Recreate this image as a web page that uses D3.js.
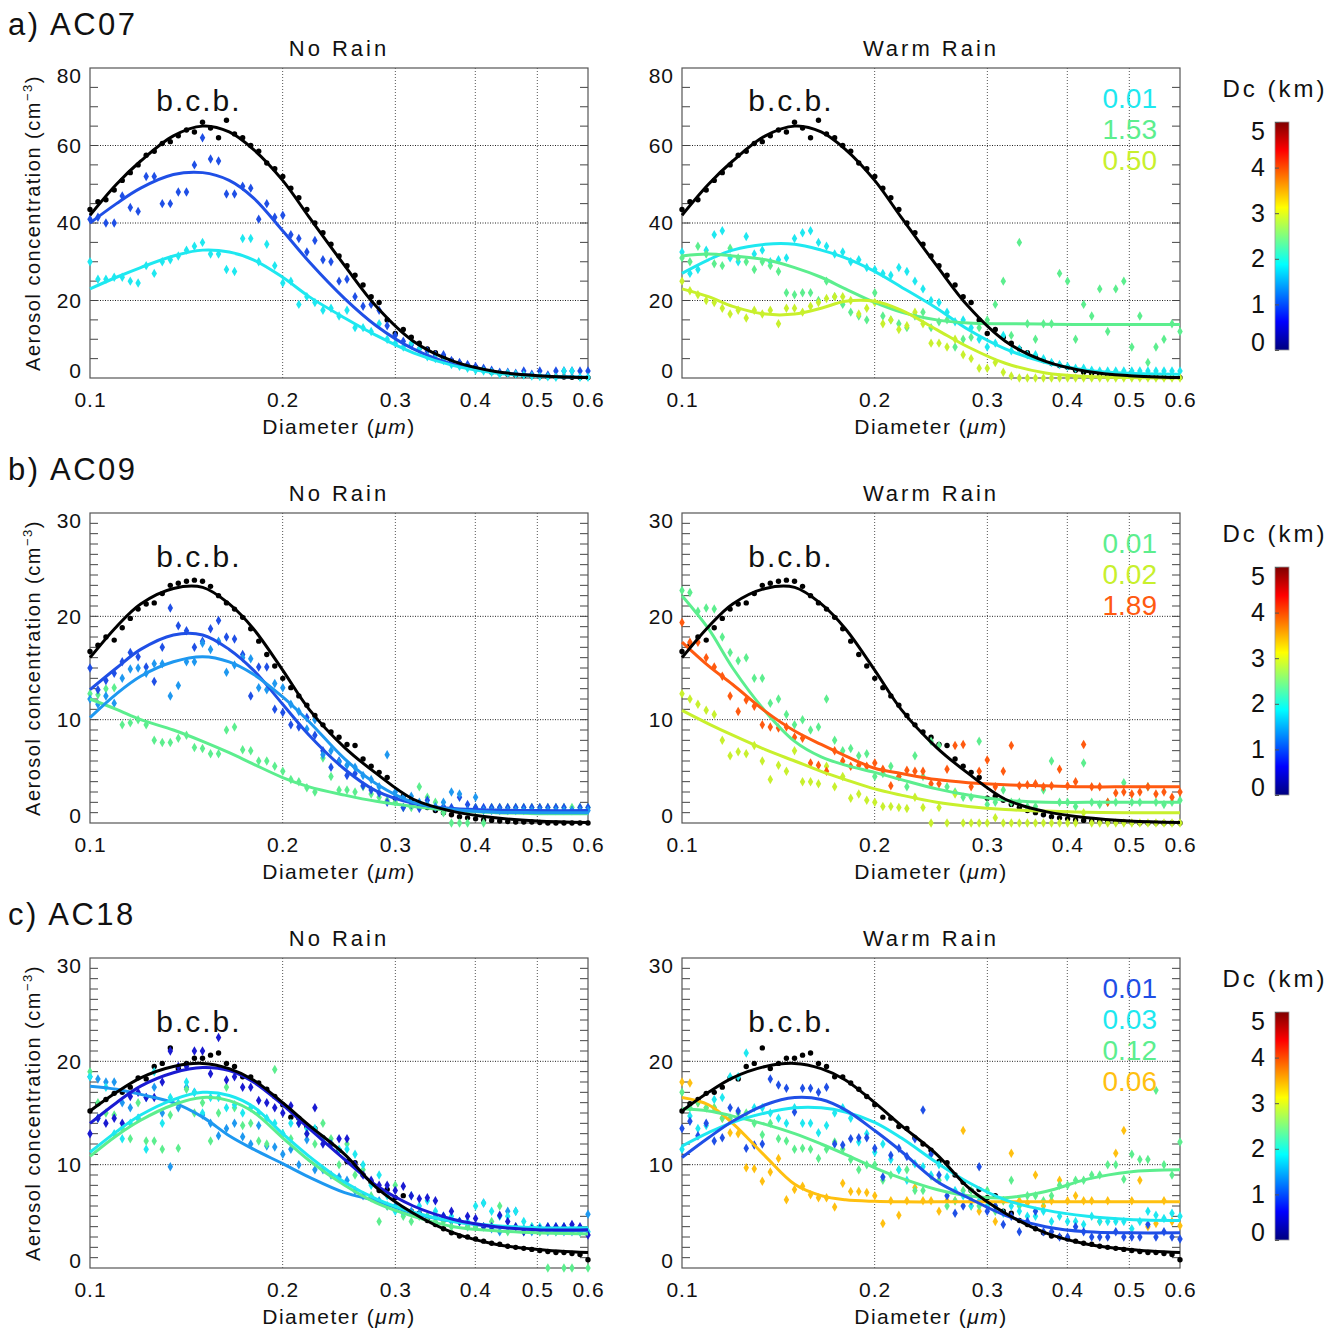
<!DOCTYPE html>
<html>
<head>
<meta charset="utf-8">
<script src="https://cdn.jsdelivr.net/npm/d3@7"></script>
<style>
body { margin: 0; background: #fff; }
text { font-family: "Liberation Sans", Arial, sans-serif; fill: #111; }
</style>
</head>
<body>
<svg id="fig" width="1340" height="1331"></svg>
<script>
// diameter bins of the measured points (um) and of the fitted curves
var diam = [0.1000,0.1029,0.1059,0.1091,0.1123,0.1156,0.1189,0.1224,0.1260,0.1297,0.1335,0.1374,0.1415,0.1456,0.1499,0.1543,
            0.1588,0.1634,0.1682,0.1732,0.1783,0.1835,0.1889,0.1944,0.2001,0.2060,0.2120,0.2182,0.2246,0.2312,0.2380,0.2450,
            0.2521,0.2595,0.2671,0.2750,0.2830,0.2913,0.2999,0.3087,0.3177,0.3270,0.3366,0.3465,0.3567,0.3671,0.3779,0.3890,
            0.4004,0.4121,0.4242,0.4367,0.4495,0.4626,0.4762,0.4902,0.5045,0.5193,0.5346,0.5503,0.5664,0.5830,0.6000];
var fitDiam = [0.10,0.11,0.12,0.135,0.15,0.165,0.18,0.20,0.22,0.25,0.28,0.32,0.37,0.43,0.50,0.60];

var xTickVals = [0.1, 0.2, 0.3, 0.4, 0.5, 0.6];
var xGridVals = [0.2, 0.3, 0.4, 0.5];
var dcTicks = [0, 1, 2, 3, 4, 5];

// a) AC07
var ac07Bcb = [43.5,45.5,46,48.5,51,53,55,57.5,58.5,60.5,61,62.5,64,63.5,66,64.5,
               62,66.5,63,62,60,58.5,55.5,54,52,49,46.5,43.5,40,37.5,34.5,31.5,
               29,26.5,24,21,19.5,15,11.5,12.5,10.5,9,7.5,6.5,5.5,4.5,3.8,3.2,
               2.8,2,1.5,1.2,1,0.8,0.6,0.5,0.4,0.35,0.3,0.25,0.2,0.15,0.1];
var ac07BcbFit = [42,50,56,62.5,65,63.5,59,51,41.5,29,18.5,9.5,4.3,1.7,0.6,0.1];
var ac07NrBlue = [41,41.5,40,40,47,44,43,52,52,45,45,48,48,55,62,56.5,
                  56,47.5,47.5,49.5,49,41,45,41.5,42,37,36,32.5,35.5,30.5,30,25,
                  25.5,21,18.5,19,17.5,13.5,11,9.5,8.5,7.5,7,6,6,4.5,4,3.5,
                  3,2.5,2,1.5,1.5,1.2,1.8,1,1.8,0.8,1.8,1.8,1.8,1.8,1.8];
var ac07NrBlueFit = [40,45,49,52.5,53,51,46.5,38,30,20.5,13.5,7.5,3.5,1.5,0.6,0.2];
var ac07NrCyan = [30,25.5,25.5,26,26,25,24.5,29,27,30,30.5,31.5,33,34,35,32,
                  32,28,27.5,36,36,30,34.5,29,24.5,25,19,21,19.5,17.5,18,16,
                  17.5,13,13,12,14,10,9,8,9,7.5,5.5,5,4.5,3.5,3,2.5,
                  2,1.8,1.5,1,1.2,1,0.8,0.5,0.4,0.3,0.2,1.8,1.8,0.2,0.2];
var ac07NrCyanFit = [23,26,28.5,31.5,33,32.5,30.5,26,21,15.5,11,6.5,3.2,1.3,0.5,0.2];
var ac07WrCyan = [32.5,27,28,33,37,38,31,30,36.5,32,33,30,30.5,31,36,37.5,
                  38,35,34,32,32.5,30,30.5,28.5,28,27,26.5,28.5,27.5,25,23,20,
                  19.5,17,14.5,15,13,10,8,9,11,7,7.5,6,6,5,4,3.5,
                  3,2.5,2.5,2,1.8,1.8,1.8,1.8,1.8,1.8,1.8,1.8,1.8,1.8,1.8];
var ac07WrCyanFit = [27,30.5,33,34.5,34.5,33,31,27.5,23.5,18,12.5,7.5,4,2,1.2,1];
var ac07WrGreen = [31,30,34,32,29.5,29,33.5,31,30,28,30,29,27.5,22,21.5,22,
                   22,20,25,21,19,17,16,15,22,16,15,14,13,16,17,13,
                   14.5,15,8,10,10.5,13,15,19,25,11,35,14,10,14,14,27,
                   25,10,19,16,23,12,23,25,8,16,4,8,10,14,12];
var ac07WrGreenFit = [31.5,32,31.5,30.5,28.5,26,23,19.5,17,15,14.2,14,13.9,13.8,13.8,13.8];
var ac07WrYg = [25,22.5,21.5,20,19.5,18,16.5,17.5,15.5,17.5,16.5,17.5,14,18,18,17,
                18.5,19.5,20.5,21,21,20,16.5,18,19.5,14,15,12.5,13.5,17,14,9,
                9,8,10,6,5,2.5,2.5,4,1.5,0.5,0,0,0,0,0,0,
                0,0,0,0,0,0,0,0,0,0,0,0,0,0,0];
var ac07WrYgFit = [23,21,18.5,16.5,16.5,18,19.8,19.8,17.5,12.5,8,3.8,1.3,0.4,0.1,0];
var ac07Legend = ["0.01", "1.53", "0.50"];

// b) AC09
var ac09Bcb = [16.6,17.2,18,17.7,18.9,19.8,20.7,21.2,21.3,22.2,23,23.2,23.4,23.5,23.4,22.9,
               22,21.3,20.7,19.9,18.8,17.6,16.3,15.2,14,13.1,12.3,11.4,10.4,9.5,8.8,8.3,
               7.6,7.5,6.2,5.5,4.9,4.4,2.4,2.6,2.2,1.8,1.5,1.2,1,0.8,0.6,0.5,
               0.4,0.3,0.25,0.2,0.15,0.1,0.1,0.1,0.05,0,0,0,0,0,0];
var ac09BcbFit = [16,19,21.2,22.7,22.8,21.2,18.8,14.8,11,7.3,4.8,2.3,1.1,0.5,0.2,0.05];
var ac09NrBlue = [15,12.9,13.8,14.5,15.6,16.5,16.1,15.1,13.7,17,20.8,19.1,18.6,17,17.6,18.8,
                  19.6,18,17.8,16.3,12.3,15.1,15.1,11,10.7,9.5,9.3,10.2,8.5,7,5.4,6,
                  4.6,4.8,3.6,3.2,2.9,2,2.5,1.5,1.8,1.4,2.2,1.5,1.6,1.5,2.5,1.8,
                  1.5,1.5,1.5,1.5,1.5,1.5,1.5,1.5,1.5,1.5,1.5,1.5,1.2,1.5,1.5];
var ac09NrBlueFit = [12.9,15,16.8,18.2,18.2,16.8,14.8,11.5,8.5,5.2,3.1,1.9,1.4,1.25,1.2,1.2];
var ac09NrLblue = [12,11.5,12.3,11.6,14,14.9,15,14.5,15.4,15.4,12.3,13.3,15.6,15.6,17.4,16.8,
                   17.6,14.6,15.3,16,15.9,13.1,12.9,13.5,13.1,11.5,10.8,9.1,10,6.6,7,5.9,
                   5.6,5.4,4.6,4.2,3.5,6.6,3,2.5,2.6,2,1.8,1.6,2,3,2.8,1.2,
                   2.5,1.2,1.2,1.2,1.2,1.2,1.2,1.2,1.2,1.2,1.2,1.2,1.2,1.2,1.2];
var ac09NrLblueFit = [10.2,12.5,14.2,15.6,16.1,15.6,14.4,12.2,9.8,6.2,3.8,2,1.3,1.05,1,1];
var ac09NrGreen = [12.5,12.4,13,13.1,9.5,9.7,10,9.5,8,7.8,7.8,8.2,8.5,7.3,7.2,6.7,
                   6.7,9,9.3,7.1,7,6,6,5.5,5,4.2,4,3.4,3,6.3,4.5,3.2,
                   3.2,3,3.5,2.8,2.5,2.2,2,1.5,1.5,3.5,2.5,2,1,0,0,0,
                   1.5,0,1.5,1.5,1.5,1.5,1.5,1.5,1.5,1.5,1.5,1.5,1.5,1.5,1.5];
var ac09NrGreenFit = [12,11,10,9,7.9,6.8,5.7,4.4,3.5,2.7,2.1,1.6,1.2,1,0.9,0.9];
var ac09WrGreen = [22.5,22.3,20.5,20.8,20.7,18,16.5,15.7,16,14,14,11.6,12,10.5,9.5,10,
                   9,9.3,12,8,7,7.2,6.5,6.7,4.5,4.8,5.5,4.5,3.5,6.5,4.5,7.9,
                   7.5,3.5,3,2.5,2.5,7.9,1.8,2,3.2,2,2,1.6,1.6,3.2,6,2,
                   2,1.6,5.8,2,1.8,2,2,3.9,2,2,3.5,2,1.8,2,2.2];
var ac09WrGreenFit = [22,18.8,15,10.8,7.9,6.4,5.6,4.9,4.2,3.3,2.7,2.2,2,2,2,2];
var ac09WrYg = [12.5,12,11.5,10.9,10.5,8,6.5,6.9,6.7,7.5,6,4.2,5.6,5,7,4,
                4,3.8,5.5,3.5,4.5,2.4,2.8,2.2,2,1.6,1.6,1.5,1.4,2.5,1.5,0,
                1.5,0,2.8,0,0,0,0,0.5,0,0,0,0,0,0,0,0,
                0,0,1,0,0,0,0,0,0,0,0,0,0,0,0];
var ac09WrYgFit = [10.9,9.6,8.5,7.1,6,5,4.2,3.3,2.7,2,1.6,1.3,1.15,1.05,1,1];
var ac09WrOrange = [19.4,17.5,17.5,16,15.1,14.2,12.3,10.8,11.9,11.3,9.5,9.3,9.2,9.3,8.3,8.2,
                    5.8,5.6,5,7,6,5.5,5.6,5.5,5.8,5.2,3.6,4.5,5.1,5,5,3.8,
                    3.8,5.2,7.5,7.6,3.5,5,6.1,3.5,5,7.5,3.6,3.7,3.8,3.5,3.6,5.2,
                    3.6,4,7.6,3.5,3.5,2,2.9,3,2.8,3,3.5,2.8,3,2.5,3];
var ac09WrOrangeFit = [17.5,15.2,13.4,10.8,8.9,7.6,6.5,5.3,4.8,4.2,3.9,3.7,3.6,3.5,3.5,3.5];
var ac09Legend = ["0.01", "0.02", "1.89"];

// c) AC18
var ac18Bcb = [15.2,15.9,16.3,16.9,17,17.5,18.4,18.3,19.5,19.8,21.3,19.3,19.8,20.3,20.3,20.6,
               20.8,19.8,19.5,18.5,18.5,17.9,17.3,16.6,15.8,14.6,14.5,13.7,13.5,12.6,12,11.4,
               10.3,10.2,9,8.3,7.5,7.6,6.8,7,5.5,5.3,4.6,4.2,3.8,3.4,3.1,3,
               2.8,2.6,2.4,2.3,2.1,2,1.9,1.8,1.7,1.6,1.5,1.5,1.4,1.3,0.8];
var ac18BcbFit = [15.2,17,18.4,19.5,19.8,19.3,18.2,16,13.8,11,7.8,5.3,3.4,2.3,1.8,1.5];
var ac18NrDblue = [13,14.5,14,14.5,14,16.6,17,16.5,16.5,18,21,19.5,19.5,21,21,18.8,
                   22.3,18.2,18.5,17.5,17.5,16.2,16,15.5,15,15.7,14,13,15.5,12,12,12.5,
                   12.5,10,9,8.5,8,8,7.5,7.9,7,6.7,6.8,6.5,5,5.5,4.5,5,
                   4.8,4,4,5.1,4.5,4,3.5,3.8,3.8,4,4,4,4.2,4,3.2];
var ac18NrDblueFit = [14,16,17.6,18.9,19.4,19.1,18,15.8,13.5,10.5,8,6,4.7,4,3.7,3.7];
var ac18NrLblue = [18.5,18.3,18,18,16,15.5,14.5,16.5,17.5,15,9.8,15.5,17.5,17,14.8,14,
                   12.8,13.5,14,12.7,12,13.8,11.8,11.7,11,11.5,10,12.4,9.5,9.5,9,8.8,
                   8.5,7.5,7,6.8,6.5,6,6,5.3,5.5,5.3,5,5,5,4.5,4.5,4,
                   4,6.3,3.8,3.5,5.5,5.5,3.8,3.5,3.5,3.5,3.5,3.5,3.5,3.5,5.2];
var ac18NrLblueFit = [17.6,17.3,16.8,16,14.6,12.8,11.5,10.1,8.8,7.3,6.5,5.3,4.5,4,3.7,3.6];
var ac18NrCyan = [18.5,14.5,17.5,13,12.5,14,14.5,11.5,19,14,16.5,16,18,17,15,16.5,
                  16.5,15.5,15.8,15,15.5,15,14.5,14,13,14,14,13.5,13.5,12.5,12,11.5,
                  11.5,11,10,8,9,7,5.5,5.5,7,6,6.5,5.5,5,5,4.5,4.5,
                  6,6.3,5.5,5,5,5.5,4.5,4,4,4,4,4,4,3.5,3.5];
var ac18NrCyanFit = [11.2,13.2,14.8,16.3,17,16.7,15.6,13,10.8,8.3,6.7,5.4,4.5,4.1,3.9,3.9];
var ac18NrGreen = [19,16,15,14.8,13.5,12.5,16,12.3,12.3,11.5,14.8,11.6,17.3,15,16,12.3,
                   15,17.5,15.5,13.8,14,12.3,12,19.2,13,12.5,14,13,12,14,12.5,10,
                   12,9,9.5,7,4.5,6,8,5,4.5,5,5,4.5,4.5,4,4.5,4,
                   4,4,4.5,6,3.5,4,3.5,4,3.5,0,3.5,0,0,3.5,0];
var ac18NrGreenFit = [10.8,12.8,14.3,15.8,16.5,16.2,15.1,12.6,10.4,8,6.3,5,4,3.6,3.4,3.3];
var ac18WrBlue = [13.5,14.2,12.8,14,12.3,12.6,15.5,15.2,11.6,11.9,12,18.3,17.7,17.4,15.1,17.4,
                  17.4,17,17.5,12,11.9,12.5,12.6,12.6,11.6,8.8,10.9,11.6,10.8,12.5,15.3,11,
                  9,7,5.3,6,6.5,9.8,5.5,6,4.2,5,3.5,4.5,5.5,3.5,3.5,3,
                  3,4,3.5,3,3,3,3.5,3,3,3,4.2,3,3.5,3,2.8];
var ac18WrBlueFit = [10.7,12.6,14.2,15.8,16.5,16.3,15.3,13.3,11.3,8.4,6.8,5.1,4,3.5,3.4,3.4];
var ac18WrCyan = [11.5,14.7,13.5,13.8,16.3,16.5,18.5,18.5,20.8,15.5,15.5,15,14.5,14,15.5,14,
                  14,13.1,13.8,15,15.5,14.5,12.2,13,11.2,12,10.5,9.5,8.5,10.1,9.8,9,
                  10,8.8,7.5,7,6,6.5,6,6,5.3,6,5.5,5,5,5.5,4.5,5,
                  4.5,4.5,4.2,5,4.5,4.5,4.5,4.5,3.8,4.5,5.5,5.1,4.8,5.3,5];
var ac18WrCyanFit = [11.8,13.1,14.1,15,15.5,15.5,15.1,14.1,12.6,10.2,8.3,6.6,5.6,5,4.7,4.6];
var ac18WrGreen = [17,15.5,16,15.5,15.5,14.5,14.5,15,15,14,12.9,14,12.5,12.3,11.5,11.6,
                   11.5,10.6,11.5,12.2,11.5,10.5,9.5,10,10,8.5,9,9.5,9.5,7.5,7.5,8.9,
                   8.5,6,6.5,7.5,7.5,6,7.5,5.5,6.5,8.5,6,7,7,6.5,7,8,
                   8,8.5,8.5,9,9,10,10,8.6,11,10.5,10.5,17.2,10,9,12.2];
var ac18WrGreenFit = [15.4,15.2,14.7,13.9,13,12,11,9.7,8.7,7.6,7,6.8,7.4,8.6,9.3,9.5];
var ac18WrOrange = [18,17.9,16,15.5,15.5,14.5,13.1,13,9.7,9.6,8.4,9.3,10.6,6.6,7.6,7.9,
                    7.1,6.8,6.8,5.9,8.2,7.4,7.4,7.3,7,4.3,6.5,5.1,6.5,7.8,6.5,6.5,
                    5.5,6.5,6.5,13.3,6,5.5,6,4.5,6.5,11.1,6.5,6.3,9,6,6.5,8.5,
                    6.5,7,6.5,6.5,4.5,6.5,11.1,13.3,6.5,8.5,4,4.3,6.5,4.5,4.1];
var ac18WrOrangeFit = [16.5,15.8,14,10.8,8.1,7,6.6,6.45,6.4,6.4,6.4,6.4,6.4,6.4,6.4,6.4];
var ac18Legend = ["0.01", "0.03", "0.12", "0.06"];

// colours taken from the Dc colour bar
var BLUE = "#1f4fe6", DBLUE = "#1a1ad2", LBLUE = "#1e98f0", CYAN = "#1ee8f0",
    GREEN = "#5cee8e", YGREEN = "#c8f02d", ORANGE = "#ff5a10", GOLD = "#ffc010";

var rows = [
  { tag: "a) AC07", top: 68, ymax: 80, major: 20, minor: 5, bcbY: 69,
    bcb: ac07Bcb, bcbFit: ac07BcbFit,
    noRain: [{ c: BLUE, p: ac07NrBlue, f: ac07NrBlueFit }, { c: CYAN, p: ac07NrCyan, f: ac07NrCyanFit }],
    warmRain: [{ c: CYAN, p: ac07WrCyan, f: ac07WrCyanFit }, { c: GREEN, p: ac07WrGreen, f: ac07WrGreenFit },
               { c: YGREEN, p: ac07WrYg, f: ac07WrYgFit }],
    legend: ac07Legend, legendCol: [CYAN, GREEN, YGREEN] },
  { tag: "b) AC09", top: 513, ymax: 30, major: 10, minor: 1, bcbY: 24.8,
    bcb: ac09Bcb, bcbFit: ac09BcbFit,
    noRain: [{ c: GREEN, p: ac09NrGreen, f: ac09NrGreenFit }, { c: BLUE, p: ac09NrBlue, f: ac09NrBlueFit },
             { c: LBLUE, p: ac09NrLblue, f: ac09NrLblueFit }],
    warmRain: [{ c: GREEN, p: ac09WrGreen, f: ac09WrGreenFit }, { c: YGREEN, p: ac09WrYg, f: ac09WrYgFit },
               { c: ORANGE, p: ac09WrOrange, f: ac09WrOrangeFit }],
    legend: ac09Legend, legendCol: [GREEN, YGREEN, ORANGE] },
  { tag: "c) AC18", top: 958, ymax: 30, major: 10, minor: 1, bcbY: 22.8,
    bcb: ac18Bcb, bcbFit: ac18BcbFit,
    noRain: [{ c: LBLUE, p: ac18NrLblue, f: ac18NrLblueFit }, { c: GREEN, p: ac18NrGreen, f: ac18NrGreenFit },
             { c: CYAN, p: ac18NrCyan, f: ac18NrCyanFit }, { c: DBLUE, p: ac18NrDblue, f: ac18NrDblueFit }],
    warmRain: [{ c: GOLD, p: ac18WrOrange, f: ac18WrOrangeFit }, { c: GREEN, p: ac18WrGreen, f: ac18WrGreenFit },
               { c: CYAN, p: ac18WrCyan, f: ac18WrCyanFit }, { c: BLUE, p: ac18WrBlue, f: ac18WrBlueFit }],
    legend: ac18Legend, legendCol: [BLUE, CYAN, GREEN, GOLD] }
];

var svg = d3.select("#fig");
var W = 498, H = 310;
var lefts = [90, 682];

// jet gradient for the colour bar
var grad = svg.append("defs").append("linearGradient")
    .attr("id", "jet").attr("x1", 0).attr("y1", 1).attr("x2", 0).attr("y2", 0);
[[0, "#00007f"], [0.125, "#0000ff"], [0.375, "#00ffff"], [0.625, "#ffff00"], [0.875, "#ff0000"], [1, "#7f0000"]]
  .forEach(function (s) {
    grad.append("stop").attr("offset", s[0]).attr("stop-color", s[1]);
  });

function styleAxis(ax, size) {
    ax.attr("font-size", null).attr("font-family", null);
    ax.select(".domain").remove();
    ax.selectAll("text").style("font-size", size + "px").style("letter-spacing", "1px").attr("fill", "#111");
}

function drawPanel(left, row, series, title, legend, legendCol) {
    var top = row.top;
    var x = d3.scaleLog().domain([0.1, 0.6]).range([left, left + W]);
    var y = d3.scaleLinear().domain([0, row.ymax]).range([top + H, top]);
    var g = svg.append("g");

    // dotted grid
    g.selectAll(".gx").data(xGridVals).enter().append("line")
        .attr("x1", function (d) { return x(d); }).attr("x2", function (d) { return x(d); })
        .attr("y1", top).attr("y2", top + H)
        .attr("stroke", "#555").attr("stroke-dasharray", "1,2");
    var majors = d3.range(row.major, row.ymax, row.major);
    g.selectAll(".gy").data(majors).enter().append("line")
        .attr("x1", left).attr("x2", left + W)
        .attr("y1", function (d) { return y(d); }).attr("y2", function (d) { return y(d); })
        .attr("stroke", "#222").attr("stroke-dasharray", "1,1.5");

    // minor ticks on both sides
    var minors = d3.range(row.minor, row.ymax, row.minor);
    g.selectAll(".tl").data(minors).enter().append("line")
        .attr("x1", left).attr("x2", left + 8)
        .attr("y1", function (d) { return y(d); }).attr("y2", function (d) { return y(d); })
        .attr("stroke", "#444");
    g.selectAll(".tr").data(minors).enter().append("line")
        .attr("x1", left + W - 8).attr("x2", left + W)
        .attr("y1", function (d) { return y(d); }).attr("y2", function (d) { return y(d); })
        .attr("stroke", "#444");

    // frame
    g.append("rect").attr("x", left).attr("y", top).attr("width", W).attr("height", H)
        .attr("fill", "none").attr("stroke", "#555").attr("stroke-width", 1.2);

    // axes labels
    var xa = g.append("g").attr("transform", "translate(0," + (top + H) + ")")
        .call(d3.axisBottom(x).tickValues(xTickVals).tickFormat(d3.format(".1f")).tickSize(0).tickPadding(14));
    styleAxis(xa, 21);
    var ya = g.append("g").attr("transform", "translate(" + left + ",0)")
        .call(d3.axisLeft(y).tickValues(d3.range(0, row.ymax + 0.1, row.major)).tickSize(0).tickPadding(8));
    styleAxis(ya, 21);
    ya.selectAll("text").attr("transform", function (d) {
        return d === 0 ? "translate(0,-7)" : (d === row.ymax ? "translate(0,8)" : null);
    });

    // panel title
    g.append("text").attr("x", left + W / 2).attr("y", top - 12)
        .attr("text-anchor", "middle").style("font-size", "22px").style("letter-spacing", "3px")
        .text(title);

    // x title
    var xt = g.append("text").attr("x", left + W / 2).attr("y", top + H + 56)
        .attr("text-anchor", "middle").style("font-size", "21px").style("letter-spacing", "1.5px");
    xt.append("tspan").text("Diameter (");
    xt.append("tspan").style("font-style", "italic").text("\u03bcm");
    xt.append("tspan").text(")");

    var line = d3.line()
        .x(function (d) { return x(d[0]); })
        .y(function (d) { return y(d[1]); })
        .curve(d3.curveCatmullRom.alpha(0.5));
    var diamond = d3.symbol().type(d3.symbolDiamond).size(26);

    // measured points
    g.selectAll(".bp").data(d3.zip(diam, row.bcb)).enter().append("circle")
        .attr("cx", function (d) { return x(d[0]); }).attr("cy", function (d) { return y(d[1]); })
        .attr("r", 2.7).attr("fill", "#000");
    series.forEach(function (s) {
        g.selectAll(null).data(d3.zip(diam, s.p)).enter().append("path")
            .attr("d", diamond)
            .attr("transform", function (d) { return "translate(" + x(d[0]) + "," + y(d[1]) + ")"; })
            .attr("fill", s.c);
    });

    // fitted curves
    series.forEach(function (s) {
        g.append("path").datum(d3.zip(fitDiam, s.f))
            .attr("d", line).attr("fill", "none").attr("stroke", s.c).attr("stroke-width", 3);
    });
    g.append("path").datum(d3.zip(fitDiam, row.bcbFit))
        .attr("d", line).attr("fill", "none").attr("stroke", "#000").attr("stroke-width", 3);

    // b.c.b. label
    g.append("text").attr("x", x(0.148)).attr("y", y(row.bcbY))
        .attr("text-anchor", "middle").style("font-size", "30px").style("letter-spacing", "2px")
        .text("b.c.b.");

    // legend numbers
    if (legend) {
        g.selectAll(".lg").data(legend).enter().append("text")
            .attr("x", left + W - 23)
            .attr("y", function (d, i) { return top + 40 + i * 31; })
            .attr("text-anchor", "end")
            .style("font-size", "28px")
            .style("fill", function (d, i) { return legendCol[i]; })
            .text(function (d) { return d; });
    }
}

function drawColorbar(top) {
    var cb = d3.scaleLinear().domain([0, 5]).range([top + 282, top + 54]);
    var g = svg.append("g");
    g.append("text").attr("x", 1275).attr("y", top + 29)
        .attr("text-anchor", "middle").style("font-size", "24px").style("letter-spacing", "3px")
        .text("Dc (km)");
    g.append("rect").attr("x", 1275).attr("y", cb(5)).attr("width", 14).attr("height", cb(0) - cb(5))
        .attr("fill", "url(#jet)").attr("stroke", "#999").attr("stroke-width", 0.8);
    var ax = g.append("g").attr("transform", "translate(1275,0)")
        .call(d3.axisLeft(cb).tickValues(dcTicks).tickFormat(d3.format("d")).tickSize(-4).tickPadding(10));
    styleAxis(ax, 25);
    ax.selectAll("line").attr("stroke", "#555");
    ax.selectAll("text").style("letter-spacing", "0px").attr("transform", function (d) {
        return d === 0 ? "translate(0,-8)" : (d === 5 ? "translate(0,9)" : null);
    });
}

rows.forEach(function (row) {
    svg.append("text").attr("x", 8).attr("y", row.top - 33)
        .style("font-size", "31px").style("letter-spacing", "2.5px").text(row.tag);

    var yt = svg.append("text")
        .attr("transform", "translate(40," + (row.top + H / 2) + ") rotate(-90)")
        .attr("text-anchor", "middle").style("font-size", "20px").style("letter-spacing", "1.5px");
    yt.append("tspan").text("Aerosol concentration (cm");
    yt.append("tspan").attr("dy", -8).style("font-size", "13px").text("\u22123");
    yt.append("tspan").attr("dy", 8).text(")");

    drawPanel(lefts[0], row, row.noRain, "No Rain", null, null);
    drawPanel(lefts[1], row, row.warmRain, "Warm Rain", row.legend, row.legendCol);
    drawColorbar(row.top);
});
</script>
</body>
</html>
